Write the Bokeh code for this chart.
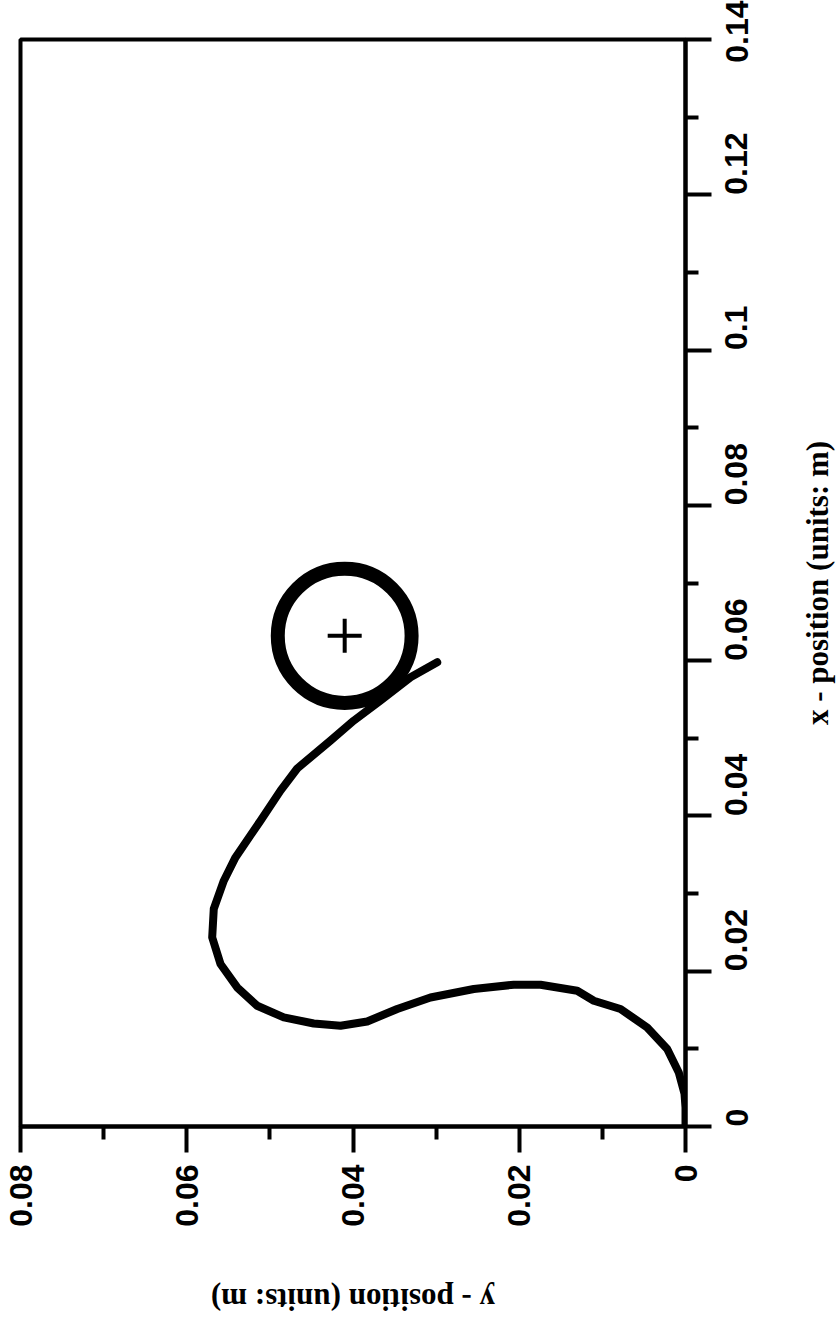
from math import pi

from bokeh.core.properties import value
from bokeh.embed import file_html
from bokeh.layouts import column, row
from bokeh.models import FixedTicker, Range1d
from bokeh.plotting import figure
from bokeh.resources import INLINE

# Trajectory of the tip, sampled along the path (units: m).
# traj_y: y-position, traj_x: x-position
traj_y = [0.0, 0.0, 0.00012, 0.00081, 0.00220, 0.00461, 0.00782, 0.01103,
          0.01303, 0.01744, 0.02066, 0.02547, 0.03068, 0.03468, 0.03829,
          0.04150, 0.04472, 0.04833, 0.05153, 0.05393, 0.05594, 0.05694,
          0.05675, 0.05554, 0.05414, 0.05113, 0.04872, 0.04671, 0.04271,
          0.03990, 0.03669, 0.03308, 0.02987]
traj_x = [0.0, 0.00245, 0.00421, 0.00696, 0.00997, 0.01276, 0.01513, 0.01620,
          0.01749, 0.01826, 0.01826, 0.01771, 0.01662, 0.01513, 0.01353,
          0.01298, 0.01327, 0.01405, 0.01555, 0.01791, 0.02093, 0.02436,
          0.02802, 0.03166, 0.03466, 0.03939, 0.04326, 0.04611, 0.04970,
          0.05228, 0.05486, 0.05786, 0.05979]

# Target: centre and extent (units: m)
target_x = 0.0632
target_y = 0.0410
target_extent_y = 0.0161
target_extent_x = 0.0173

# Axis ticks and their labels
x_ticks = [0.0, 0.02, 0.04, 0.06, 0.08, 0.1, 0.12, 0.14]
x_tick_labels = ["0", "0.02", "0.04", "0.06", "0.08", "0.1", "0.12", "0.14"]
x_minor_ticks = [0.01, 0.03, 0.05, 0.07, 0.09, 0.11, 0.13]
y_ticks = [0.0, 0.02, 0.04, 0.06, 0.08]
y_tick_labels = ["0", "0.02", "0.04", "0.06", "0.08"]
y_minor_ticks = [0.01, 0.03, 0.05, 0.07]

x_title = "x - position (units: m)"
y_title = "y - position (units: m)"

# Page geometry (px)
PAGE_W, PAGE_H = 836, 1320
SIDE_W, FOOT_H = 38, 42
FRAME_LEFT, FRAME_TOP = 20, 39
FRAME_W, FRAME_H = 665, 1087

MAIN_W = PAGE_W - SIDE_W
MAIN_H = PAGE_H - FOOT_H
RIGHT_BORDER = MAIN_W - FRAME_LEFT - FRAME_W
BOTTOM_BORDER = MAIN_H - FRAME_TOP - FRAME_H

# The page is laid out turned a quarter turn: y-position runs along the
# bottom (0.08 at left, 0 at right) and x-position up the right side.
y_pos_range = Range1d(0.08, 0.0)
x_pos_range = Range1d(0.0, 0.14)

p = figure(width=MAIN_W, height=MAIN_H,
           x_range=y_pos_range, y_range=x_pos_range,
           x_axis_location="below", y_axis_location="right",
           output_backend="svg", toolbar_location=None,
           min_border_left=FRAME_LEFT, min_border_right=RIGHT_BORDER,
           min_border_top=FRAME_TOP, min_border_bottom=BOTTOM_BORDER)

p.grid.visible = False
p.background_fill_color = "white"
p.border_fill_color = "white"
p.outline_line_color = "black"
p.outline_line_width = 4

bottom_axis = p.xaxis[0]
bottom_axis.ticker = FixedTicker(ticks=y_ticks, minor_ticks=y_minor_ticks)
bottom_axis.major_label_overrides = dict(zip(y_ticks, y_tick_labels))
bottom_axis.major_label_standoff = 12

right_axis = p.yaxis[0]
right_axis.ticker = FixedTicker(ticks=x_ticks, minor_ticks=x_minor_ticks)
right_axis.major_label_overrides = dict(zip(x_ticks, x_tick_labels))
right_axis.major_label_standoff = 25

for ax in (bottom_axis, right_axis):
    ax.axis_line_color = "black"
    ax.axis_line_width = 4
    ax.major_tick_line_color = "black"
    ax.major_tick_line_width = 4
    ax.minor_tick_line_color = "black"
    ax.minor_tick_line_width = 4
    ax.major_tick_in = 0
    ax.major_tick_out = 26
    ax.minor_tick_in = 0
    ax.minor_tick_out = 13
    ax.major_label_orientation = pi / 2
    ax.major_label_text_font = "Liberation Sans"
    ax.major_label_text_font_style = "bold"
    ax.major_label_text_font_size = "32px"
    ax.major_label_text_color = "black"

# Trajectory
p.line(traj_y, traj_x, line_color="black", line_width=8,
       line_join="round", line_cap="round")

# Target ring and its centre mark
p.ellipse(x=[target_y], y=[target_x], width=target_extent_y,
          height=target_extent_x, fill_color=None, line_color="black",
          line_width=14)
p.scatter(x=[target_y], y=[target_x], marker="cross", size=34,
          line_color="black", line_width=4)


def title_strip(width, height, x_range, y_range, **borders):
    f = figure(width=width, height=height, x_range=x_range, y_range=y_range,
               x_axis_location=None, y_axis_location=None,
               output_backend="svg", toolbar_location=None,
               min_border_left=0, min_border_right=0,
               min_border_top=0, min_border_bottom=0)
    for side, size in borders.items():
        setattr(f, side, size)
    f.grid.visible = False
    f.outline_line_color = None
    f.background_fill_color = "white"
    f.border_fill_color = "white"
    return f


title_style = dict(text_align="center", text_baseline="middle",
                   text_font=value("Liberation Serif"),
                   text_font_style="bold", text_font_size="31px",
                   text_color="black")

# x-position title, reading upward beside the right-hand axis
side = title_strip(SIDE_W, MAIN_H, Range1d(0, 1), x_pos_range,
                   min_border_top=FRAME_TOP, min_border_bottom=BOTTOM_BORDER)
side.text(x=[0.5], y=[(x_pos_range.start + x_pos_range.end) / 2],
          text=[x_title], angle=pi / 2, **title_style)

# y-position title, upside down below the bottom axis
foot = title_strip(PAGE_W, FOOT_H, y_pos_range, Range1d(0, 1),
                   min_border_left=FRAME_LEFT,
                   min_border_right=PAGE_W - FRAME_LEFT - FRAME_W)
foot.text(x=[(y_pos_range.start + y_pos_range.end) / 2], y=[0.5],
          text=[y_title], angle=pi, **title_style)

layout = column(row(p, side, spacing=0), foot, spacing=0)

with open("out.html", "w") as f:
    f.write(file_html(layout, INLINE))
